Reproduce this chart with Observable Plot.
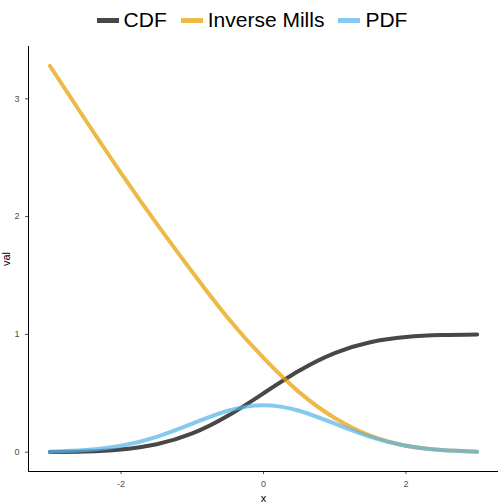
<!DOCTYPE html>
<html><head><meta charset="utf-8">
<script src="https://cdn.jsdelivr.net/npm/d3@7"></script>
<script src="https://cdn.jsdelivr.net/npm/@observablehq/plot@0.6"></script>
<style>
body{margin:0;background:#fff;font-family:"Liberation Sans",Arial,sans-serif}
#legend{height:40px;display:flex;justify-content:center;align-items:center;gap:14px;font-size:21px;color:#000}
#legend span{display:flex;align-items:center;gap:5px}
#legend i{display:inline-block;width:22px;height:5px}
</style></head><body>
<div id="legend"></div>
<div id="chart"></div>
<script>
// values
const xs  = [-3, -2.5, -2, -1.5, -1, -0.5, 0, 0.5, 1, 1.5, 2, 2.5, 3];
const pdf = [0.004, 0.018, 0.054, 0.130, 0.242, 0.352, 0.399, 0.352, 0.242, 0.130, 0.054, 0.018, 0.004];
const cdf = [0.001, 0.006, 0.023, 0.067, 0.159, 0.309, 0.5, 0.691, 0.841, 0.933, 0.977, 0.994, 0.999];
const mills = [3.28, 2.82, 2.37, 1.94, 1.53, 1.14, 0.80, 0.51, 0.29, 0.14, 0.055, 0.018, 0.004];
const seriesNames = ["CDF", "Inverse Mills", "PDF"];
const seriesColors = ["#000000", "#E69F00", "#56B4E9"];

const rows = [];
[cdf, mills, pdf].forEach((vals, k) => vals.forEach((v, i) => rows.push({x: xs[i], val: v, s: seriesNames[k]})));

const legend = document.getElementById("legend");
seriesNames.forEach((n, i) => {
  const s = document.createElement("span");
  s.innerHTML = `<i style="background:${seriesColors[i]};opacity:0.72"></i>${n}`;
  legend.appendChild(s);
});

const chart = Plot.plot({
  width: 504, height: 464,
  marginLeft: 28, marginRight: 6, marginTop: 6, marginBottom: 33,
  style: {fontFamily: "Liberation Sans, Arial, sans-serif", fontSize: "9px", color: "#4d4d4d"},
  x: {domain: [-3.3, 3.3], ticks: [-2, 0, 2], tickFormat: d => String(d), label: "x", labelAnchor: "center", labelArrow: "none", labelOffset: 30, tickSize: 3},
  y: {domain: [-0.164, 3.444], ticks: [0, 1, 2, 3], tickFormat: d => String(d), label: "val", labelAnchor: "center", labelArrow: "none", labelOffset: 26, tickSize: 3},
  color: {domain: seriesNames, range: seriesColors},
  marks: [
    Plot.line(rows, {x: "x", y: "val", z: "s", stroke: "s", strokeWidth: 4, strokeOpacity: 0.72, curve: "natural"}),
    Plot.ruleX([-3.3], {stroke: "#000"}),
    Plot.ruleY([-0.164], {stroke: "#000"})
  ]
});
document.getElementById("chart").appendChild(chart);
chart.querySelectorAll("[aria-label='x-axis label'], [aria-label='y-axis label']").forEach(t => { t.style.fontSize = "11px"; t.style.fill = "#000"; });
</script>
</body></html>
